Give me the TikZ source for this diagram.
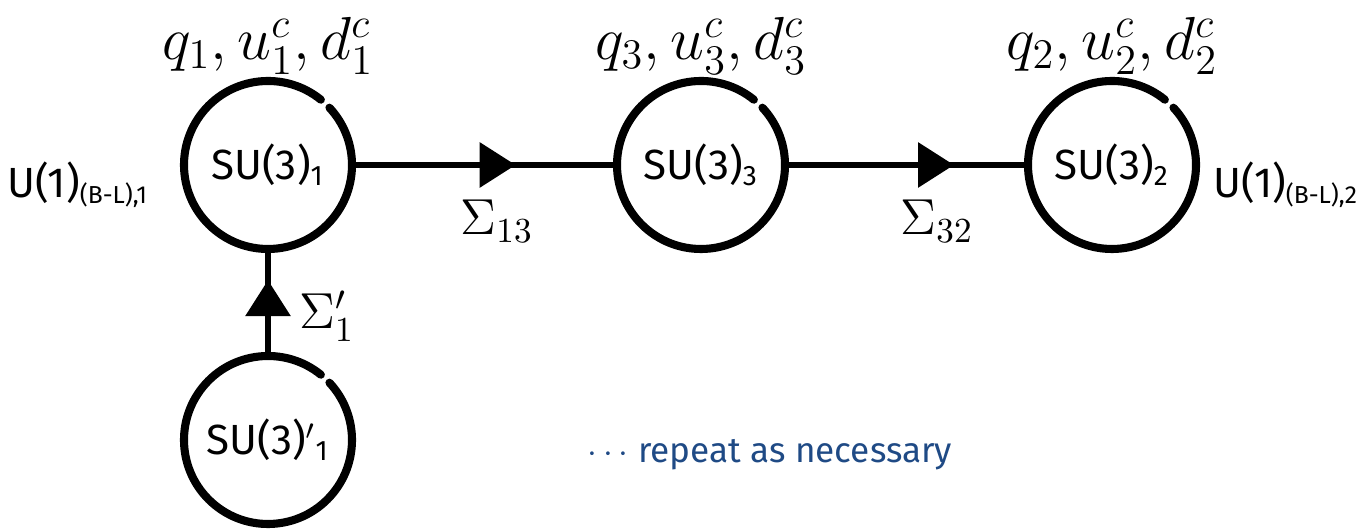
\documentclass[tikz,border=0pt]{standalone}
\usepackage{fontspec}
\setsansfont{Fira Sans}
\definecolor{inkblue}{HTML}{1F4A85}
\usetikzlibrary{arrows.meta, decorations.markings}

\tikzset{
  group/.style={circle, minimum size=1.72cm, inner sep=0pt, font=\sffamily\large},
  ring/.style={line width=2.3pt, line cap=round},
  link/.style={line width=1.8pt,
    decoration={markings, mark=at position #1 with {\arrow{Triangle[length=3.6mm, width=4.4mm]}}},
    postaction={decorate}},
  field/.style={font=\Large},
  abelian/.style={font=\sffamily\large}
}

\begin{document}
\begin{tikzpicture}
  \useasboundingbox (0,0) rectangle (13.63,5.29);
  % gauge groups
  \node[group] (su1)  at (2.68,3.64)  {SU(3)\textsubscript{1}};
  \node[group] (su3)  at (7.01,3.64)  {SU(3)\textsubscript{3}};
  \node[group] (su2)  at (11.12,3.64) {SU(3)\textsubscript{2}};
  \node[group] (su1p) at (2.68,0.89)  {SU(3)$'$\textsubscript{1}};
  \foreach \n in {su1,su3,su2,su1p}
    \draw[ring] ([shift={(51:0.84)}]\n.center) arc[start angle=51, end angle=403, radius=0.84];
  % matter on each node
  \node[field, font=\LARGE] (m1) at (2.68,4.83)  {$q_1, u^c_1, d^c_1$};
  \node[field, font=\LARGE] (m3) at (7.01,4.83)  {$q_3, u^c_3, d^c_3$};
  \node[field, font=\LARGE] (m2) at (11.12,4.83) {$q_2, u^c_2, d^c_2$};
  \node[abelian] (bl1) at (0.78,3.44)  {U(1)\textsubscript{\scriptsize(B-L),1}};
  \node[abelian] (bl2) at (12.86,3.44) {U(1)\textsubscript{\scriptsize(B-L),2}};
  % bifundamentals
  \draw[link=0.62] (su1) -- (su3);
  \draw[link=0.70] (su3) -- (su2);
  \draw[link=0.72] (su1p) -- (su1);
  \node[field] (s13) at (4.97,3.08) {$\Sigma_{13}$};
  \node[field] (s32) at (9.37,3.08) {$\Sigma_{32}$};
  \node[field] (s1p) at (3.27,2.13) {$\Sigma'_1$};
  \node[font=\sffamily, text=inkblue] (note) at (7.70,0.74) {$\cdots$ repeat as necessary};
\end{tikzpicture}
\end{document}
